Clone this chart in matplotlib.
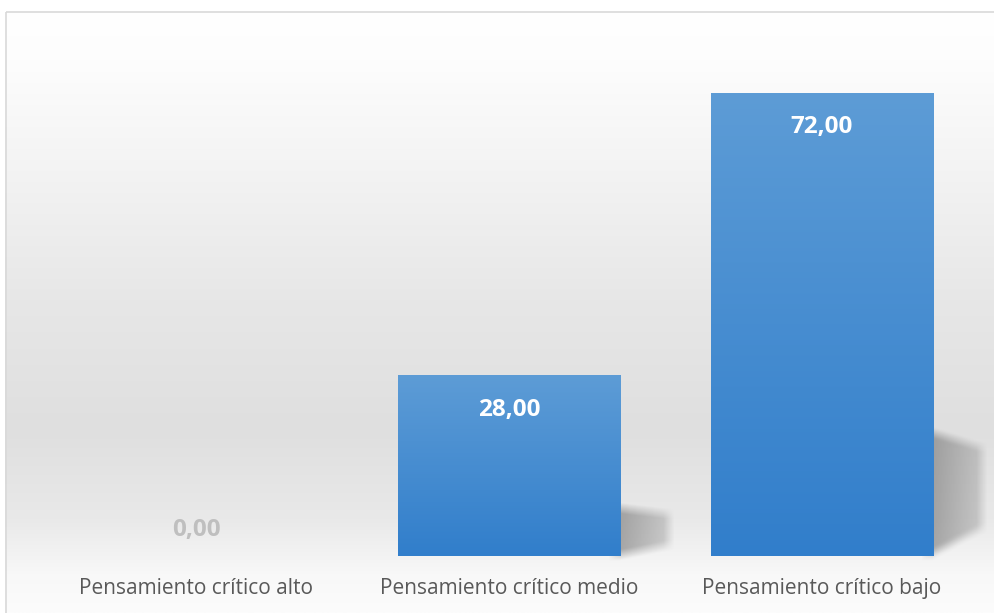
import numpy as np
import matplotlib
matplotlib.use("Agg")
import matplotlib.pyplot as plt
from matplotlib.patches import Rectangle
from matplotlib.path import Path

categories = ["Pensamiento crítico alto", "Pensamiento crítico medio", "Pensamiento crítico bajo"]
values = [0.0, 28.0, 72.0]
value_labels = ["0,00", "28,00", "72,00"]

W, H = 995, 613
FONT = ["Open Sans", "DejaVu Sans"]
plt.rcParams["font.family"] = FONT

fig = plt.figure(figsize=(W / 100, H / 100), dpi=100)

# ---- background panel (pixel coordinates, y downward) ----
bg = fig.add_axes([0, 0, 1, 1], zorder=0)
bg.set_xlim(0, W)
bg.set_ylim(H, 0)
bg.axis("off")
gy = np.linspace(11, H, 400)
stops_y = np.array([11, 60, 160, 300, 430, 520, 575, 613])
stops_v = np.array([255, 253, 244, 231, 223, 233, 248, 252]) / 255.0
col = np.interp(gy, stops_y, stops_v)
grad = np.repeat(col[:, None], 2, axis=1)
bg.imshow(np.dstack([grad, grad, grad]), extent=[5, W, H, 11], aspect="auto",
          interpolation="bilinear", zorder=0)
bg.add_patch(Rectangle((5.5, 11.5), W, H, fill=False, edgecolor="#d9d9d9", lw=1.2, zorder=1))

# ---- main axes ----
ax = fig.add_axes([39.5 / W, 57 / H, 939 / W, 514.4 / H], zorder=2)
ax.patch.set_alpha(0)
x = np.arange(len(categories))
bw = 0.71
ax.set_xlim(-0.5, len(categories) - 0.5)
ax.set_ylim(0, 80)
for s in ax.spines.values():
    s.set_visible(False)
ax.set_yticks([])
ax.set_xticks(x, categories)
ax.tick_params(axis="x", length=0, pad=16, labelsize=15, labelcolor="#595959")

bars = ax.bar(x, values, width=bw, color="none", edgecolor="none")

# ---- shadows (computed in display space from data coords) ----
fig.canvas.draw()
shadow_alpha = np.zeros((H, W))
XX, YY = np.meshgrid(np.arange(W) + 0.5, np.arange(H) + 0.5)
pts = np.column_stack([XX.ravel(), YY.ravel()])


def box_blur(a, r, axis):
    k = np.ones(2 * r + 1) / (2 * r + 1)
    return np.apply_along_axis(lambda m: np.convolve(m, k, mode="same"), axis, a)


for xi, v in zip(x, values):
    if v <= 0:
        continue
    xr = xi + bw / 2
    dx = 0.155
    poly_data = [(xr - 0.02, 0.0), (xr - 0.02, 0.27 * v), (xr + dx, 0.235 * v), (xr + dx, 0.06 * v)]
    disp = ax.transData.transform(poly_data)
    poly_px = np.column_stack([disp[:, 0], H - disp[:, 1]])
    mask = Path(poly_px).contains_points(pts).reshape(H, W).astype(float)
    x0 = poly_px[0, 0]
    x1 = poly_px[2, 0]
    fade = np.clip(1 - 0.55 * (XX - x0) / (x1 - x0), 0, 1)
    shadow_alpha = np.maximum(shadow_alpha, mask * fade)

shadow_alpha = box_blur(shadow_alpha, 5, 0)
shadow_alpha = box_blur(shadow_alpha, 5, 1)
sh = np.zeros((H, W, 4))
sh[..., :3] = 0.42
sh[..., 3] = shadow_alpha * 0.6
bg.imshow(sh, extent=[0, W, H, 0], aspect="auto", zorder=0.5, interpolation="bilinear")

# ---- gradient bars ----
top_c = np.array([93, 156, 214]) / 255.0
bot_c = np.array([49, 126, 203]) / 255.0
t = np.linspace(0, 1, 256)[:, None]
bar_grad = (top_c[None, :] * (1 - t) + bot_c[None, :] * t)[:, None, :]
for xi, v in zip(x, values):
    if v <= 0:
        continue
    ax.imshow(bar_grad, extent=[xi - bw / 2, xi + bw / 2, 0, v], aspect="auto",
              interpolation="bilinear", zorder=2)
ax.set_xlim(-0.5, len(categories) - 0.5)
ax.set_ylim(0, 80)

# ---- value labels ----
for xi, v, lab in zip(x, values, value_labels):
    if v > 0:
        ax.annotate(lab, (xi, v), xytext=(0, -24.5), textcoords="offset points",
                    ha="center", va="center", color="white", fontsize=17.5,
                    fontweight="bold", zorder=5)
    else:
        ax.annotate(lab, (xi, v), xytext=(0, 18.5), textcoords="offset points",
                    ha="center", va="center", color="#bfbfbf", fontsize=17.5,
                    fontweight="bold", zorder=5)

fig.savefig("out.png", dpi=100)
